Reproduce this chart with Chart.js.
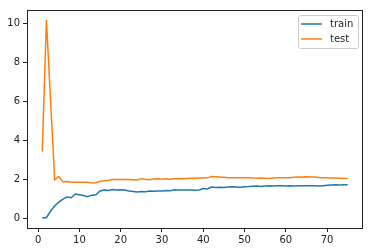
<!DOCTYPE html>
<html>
<head>
<meta charset="utf-8">
<script src="https://cdn.jsdelivr.net/npm/chart.js@4"></script>
<style>
  html, body { margin: 0; padding: 0; background: #fff; }
  #wrap { width: 372px; height: 252px; }
</style>
</head>
<body>
<div id="wrap"><canvas id="c" width="372" height="252"></canvas></div>
<script>
// valores (loss por época)
const epochs = Array.from({ length: 75 }, (_, i) => i + 1);

const trainLoss = [
  0.02, 0.02, 0.35, 0.62, 0.82, 0.98, 1.08, 1.05, 1.24, 1.20,
  1.16, 1.10, 1.18, 1.20, 1.40, 1.44, 1.42, 1.47, 1.44, 1.46,
  1.44, 1.40, 1.37, 1.34, 1.37, 1.36, 1.39, 1.38, 1.40, 1.39,
  1.42, 1.41, 1.46, 1.45, 1.44, 1.45, 1.44, 1.43, 1.45, 1.52,
  1.50, 1.60, 1.58, 1.59, 1.57, 1.60, 1.61, 1.60, 1.59, 1.61,
  1.62, 1.64, 1.65, 1.63, 1.65, 1.66, 1.65, 1.66, 1.67, 1.65,
  1.66, 1.65, 1.66, 1.66, 1.67, 1.66, 1.66, 1.65, 1.67, 1.69,
  1.70, 1.71, 1.70, 1.71, 1.71
];

const testLoss = [
  3.43, 10.20, 6.10, 1.97, 2.14, 1.87, 1.88, 1.84, 1.85, 1.84,
  1.85, 1.84, 1.80, 1.82, 1.90, 1.92, 1.93, 1.99, 1.98, 1.98,
  1.99, 1.98, 1.97, 1.96, 2.03, 2.00, 1.98, 2.01, 2.02, 2.00,
  2.02, 2.00, 2.03, 2.03, 2.02, 2.04, 2.05, 2.05, 2.06, 2.06,
  2.07, 2.14, 2.13, 2.12, 2.10, 2.08, 2.07, 2.08, 2.07, 2.07,
  2.08, 2.06, 2.05, 2.06, 2.05, 2.04, 2.06, 2.07, 2.07, 2.08,
  2.08, 2.10, 2.11, 2.12, 2.13, 2.12, 2.11, 2.09, 2.08, 2.07,
  2.06, 2.06, 2.05, 2.04, 2.04
];

const xTicks = [0, 10, 20, 30, 40, 50, 60, 70];
const yTicks = [0, 2, 4, 6, 8, 10];

const BLUE = '#1f77b4';
const ORANGE = '#ff7f0e';
const FONT = { family: 'DejaVu Sans', size: 10 };

// moldura dos 4 lados (estilo matplotlib)
const framePlugin = {
  id: 'frame',
  afterDatasetsDraw(chart) {
    const { ctx, chartArea: a } = chart;
    ctx.save();
    ctx.strokeStyle = '#222';
    ctx.lineWidth = 1;
    ctx.strokeRect(Math.round(a.left) + 0.5, Math.round(a.top) + 0.5,
      Math.round(a.right - a.left) - 1, Math.round(a.bottom - a.top));
    ctx.restore();
  }
};

// legenda no canto superior direito
const legendPlugin = {
  id: 'mplLegend',
  afterDraw(chart) {
    const { ctx, chartArea: a } = chart;
    const ds = chart.data.datasets;
    const w = 60, h = 33;
    const x = a.right - 5 - w, y = a.top + 5;
    ctx.save();
    ctx.fillStyle = 'rgba(255,255,255,0.8)';
    ctx.strokeStyle = '#ccc';
    ctx.lineWidth = 1;
    ctx.beginPath();
    ctx.roundRect(x + 0.5, y + 0.5, w, h, 2);
    ctx.fill();
    ctx.stroke();
    ctx.font = '10px "DejaVu Sans"';
    ctx.textBaseline = 'middle';
    ds.forEach((d, i) => {
      const cy = y + 9 + i * 15;
      ctx.strokeStyle = d.borderColor;
      ctx.lineWidth = 1.5;
      ctx.beginPath();
      ctx.moveTo(x + 3, cy);
      ctx.lineTo(x + 24, cy);
      ctx.stroke();
      ctx.fillStyle = '#222';
      ctx.fillText(d.label, x + 32, cy);
    });
    ctx.restore();
  }
};

new Chart(document.getElementById('c'), {
  type: 'line',
  data: {
    labels: epochs,
    datasets: [
      { label: 'train', data: trainLoss, borderColor: BLUE, borderWidth: 1.5, pointRadius: 0, fill: false, tension: 0 },
      { label: 'test',  data: testLoss,  borderColor: ORANGE, borderWidth: 1.5, pointRadius: 0, fill: false, tension: 0 }
    ]
  },
  options: {
    responsive: false, animation: false,
    layout: { padding: { top: 10, right: 9, left: 0, bottom: 0 } },
    plugins: { legend: { display: false }, tooltip: { enabled: false } },
    scales: {
      x: {
        type: 'linear', min: -2.7, max: 78.7,
        afterBuildTicks: (s) => { s.ticks = xTicks.map(v => ({ value: v })); },
        afterFit: (s) => { s.height = 24; },
        grid: { drawOnChartArea: false, drawTicks: true, tickLength: 4, tickColor: '#222' },
        border: { display: false },
        ticks: { color: '#222', font: FONT, padding: 2, maxRotation: 0 }
      },
      y: {
        min: -0.51, max: 10.71,
        afterBuildTicks: (s) => { s.ticks = yTicks.map(v => ({ value: v })); },
        afterFit: (s) => { s.width = 27; },
        grid: { drawOnChartArea: false, drawTicks: true, tickLength: 4, tickColor: '#222' },
        border: { display: false },
        ticks: { color: '#222', font: FONT, padding: 3 }
      }
    }
  },
  plugins: [framePlugin, legendPlugin]
});
</script>
</body>
</html>
